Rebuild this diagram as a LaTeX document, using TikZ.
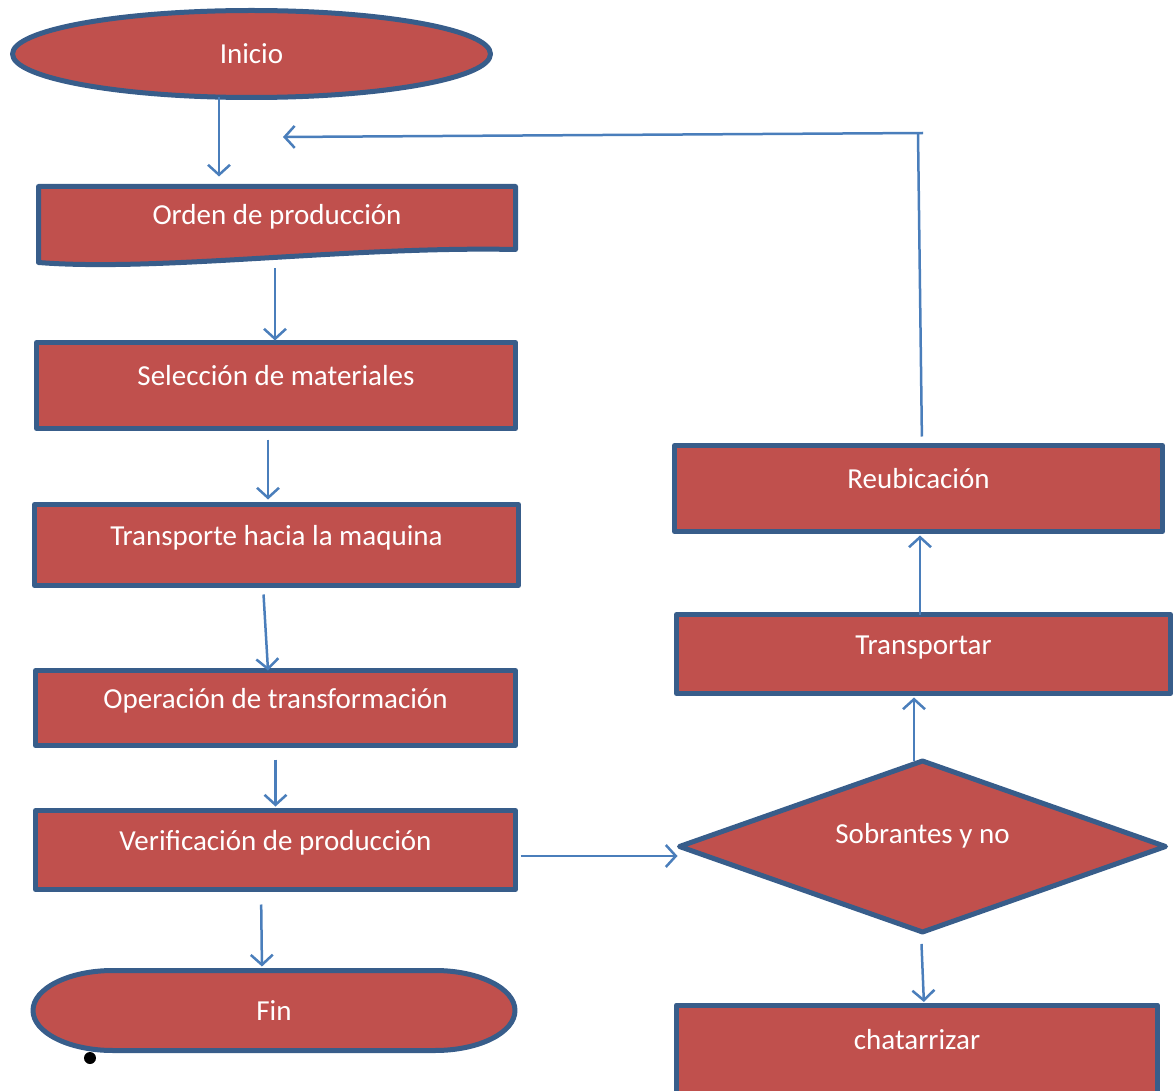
\documentclass[tikz,border=0pt]{standalone}
\usepackage{fontspec}
\setmainfont{Carlito}
\usetikzlibrary{shapes.geometric,arrows.meta}
\definecolor{rojo}{HTML}{C0504D}
\definecolor{borde}{HTML}{385D8A}
\definecolor{linea}{HTML}{4A7EBB}

\begin{document}
\begin{tikzpicture}[x=1pt,y=-1pt,font=\fontsize{29}{34}\selectfont,
	forma/.style={draw=borde,fill=rojo,line width=5pt,line join=round},
	caja/.style={forma,rectangle,text=white,inner sep=0pt,outer sep=0pt,text height=20pt,text depth=20pt},
	texto/.style={text=white,inner sep=0pt,outer sep=0pt},
	flecha/.style={draw=linea,line width=2.5pt,-{Straight Barb[length=10pt,width=22pt]}}]

	\useasboundingbox (0,0) rectangle (1176,1091);

	\node[forma,ellipse,text=white,inner sep=0pt,outer sep=0pt,minimum width=478pt,minimum height=87pt] (inicio) at (251.5,54) {Inicio};

	% documento
	\filldraw[forma] (38.5,186.5) -- (515.5,186.5) -- (515.5,249.5) .. controls (350,246) and (160,272) .. (38.5,262.5) -- cycle;
	\node[texto,text height=20pt,text depth=20pt,minimum width=477pt,minimum height=78pt] (orden) at (277,224.5) {Orden de producción};

	\node[caja,minimum width=479pt,minimum height=86pt] (selec) at (276,385.5) {Selección de materiales};
	\node[caja,minimum width=484pt,minimum height=81pt] (transp) at (276.5,545) {Transporte hacia la maquina};
	\node[caja,minimum width=480pt,minimum height=75pt] (operac) at (275.5,708) {Operación de transformación};
	\node[caja,minimum width=480pt,minimum height=79pt] (verif) at (275.5,850) {Verificación de producción};

	% terminal
	\fill (90,1058) circle (6pt);
	\filldraw[forma] (113,970.5) -- (435,970.5) arc[start angle=-90,end angle=90,x radius=80,y radius=40]
		-- (113,1050.5) arc[start angle=90,end angle=270,x radius=80,y radius=40] -- cycle;
	\node[texto,minimum width=481pt,minimum height=80pt] (fin) at (274,1010.5) {Fin};

	\node[caja,minimum width=488pt,minimum height=86pt] (reub) at (918.5,488.5) {Reubicación};
	\node[caja,minimum width=494pt,minimum height=79pt] (transpr) at (923.5,654) {Transportar};
	\node[caja,diamond,aspect=2.8,text depth=27pt,minimum width=486pt,minimum height=171pt] (decision) at (922.5,846.5) {Sobrantes y no};
	\node[caja,minimum width=481pt,minimum height=88pt] (chat) at (917,1049) {chatarrizar};

	\path[every edge/.style=flecha]
	([xshift=-32.5]inicio.south) edge[shorten >=9pt] ([xshift=-58]orden.north)
	([xshift=-2]orden.south) edge[shorten <=5pt,shorten >=2pt] ([xshift=-1]selec.north)
	([xshift=-8]selec.south) edge[shorten <=11pt,shorten >=5pt] ([xshift=-8.5]transp.north)
	([xshift=-13.5]transp.south) edge[shorten <=9pt] ([xshift=-7.5]operac.north)
	(operac.south) edge[shorten <=14pt,shorten >=4pt] (verif.north)
	([xshift=-14.5]verif.south) edge[shorten <=15pt,shorten >=4pt] ([xshift=-12]fin.north)
	([yshift=-6]verif.east) edge[shorten <=5pt,shorten >=2pt] ([yshift=-9.5]decision.west)
	([xshift=-1.5]decision.south) edge[shorten <=12pt,shorten >=3pt] ([xshift=7]chat.north)
	([xshift=-8.5]decision.north) edge[shorten >=4pt] ([xshift=-9.5]transpr.south)
	([xshift=-3.5]transpr.north) edge[shorten >=4pt] ([xshift=1.5]reub.south);

	% retorno
	\coordinate (esquina) at (918,133);
	\coordinate (retorno) at (283,137);
	\draw[draw=linea,line width=2.5pt,shorten <=9pt] ([xshift=3.5]reub.north) -- (esquina);
	\draw[flecha] ([xshift=5]esquina) -- (retorno);

\end{tikzpicture}
\end{document}
